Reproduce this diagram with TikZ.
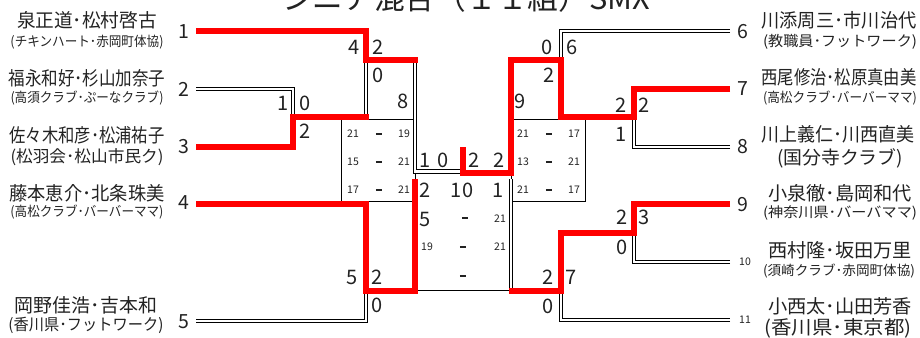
\documentclass[tikz,border=0pt]{standalone}
\usepackage{graphicx}
\usepackage{fontspec}
\setmainfont{Noto Sans CJK JP}
\newsavebox\fitbox
\newcommand\fitw[2]{\sbox\fitbox{#2}\pgfmathsetmacro\fitfac{#1/\wd\fitbox}\scalebox{\fitfac}[1]{\usebox\fitbox}}
\newcommand\fsz[1]{\fontsize{#1}{#1}\selectfont}
\newcommand\dashbar{\rule{6.5pt}{1.8pt}}
\definecolor{txt}{HTML}{222222}
\definecolor{winred}{HTML}{FF0000}
\tikzset{
  win/.style={draw=winred, line width=5.5pt, line join=miter},
  lose/.style={draw=black, line width=1.2pt, double=white, double distance=2.2pt},
  frame/.style={draw=black, line width=1pt},
  lbl/.style={inner sep=0pt, anchor=center, text=txt},
  pn/.style={lbl, font=\fsz{19.5}},
  sc/.style={lbl, font=\fsz{20}},
  sm/.style={lbl, font=\fsz{10.5}},
  dsh/.style={lbl},
}
\begin{document}
\begin{tikzpicture}[x=1pt,y=-1pt]
\useasboundingbox (0,0) rectangle (920,337);
% ---------- coordinates ----------
\coordinate (p1) at (196,31);
\coordinate (p2) at (196,89);
\coordinate (p3) at (196,147);
\coordinate (p4) at (196,204);
\coordinate (p5) at (196,321);
\coordinate (p6) at (730,31);
\coordinate (p7) at (730,89);
\coordinate (p8) at (730,147);
\coordinate (p9) at (730,204);
\coordinate (p10) at (730,262);
\coordinate (p11) at (730,320);
\coordinate (mA) at (293,117);
\coordinate (mB) at (366,60);
\coordinate (mB3) at (366,117);
\coordinate (mB3e) at (368.5,117);
\coordinate (mC) at (366,291);
\coordinate (sLt) at (415,60);
\coordinate (sLte) at (417.5,60);
\coordinate (sLb) at (415,291);
\coordinate (sLb2) at (415,179);
\coordinate (finL) at (463,171.5);
\coordinate (fin) at (463,173);
\coordinate (champ) at (463,147);
\coordinate (sRt) at (511,60);
\coordinate (sR) at (511,173);
\coordinate (sRb) at (511,291);
\coordinate (sRbe) at (508.5,291);
\coordinate (sRb2) at (511,179);
\coordinate (mD) at (561,60);
\coordinate (mD3) at (561,117);
\coordinate (mE) at (634,117);
\coordinate (mF) at (634,233);
\coordinate (mG3) at (561,233);
\coordinate (mG) at (561,291);
% ---------- score tables ----------
\draw[frame] (341,119) rectangle (415,201);
\draw[frame] (511,119) rectangle (585,201);
\draw[frame] (415,290) -- (511,290);
% ---------- losing lines ----------
\draw[lose] (p2) -| (mA);
\draw[lose] (mB3) -- (mB);
\draw[lose] (sLt) |- (finL);
\draw[lose] (p5) -| (mC);
\draw[lose] (p6) -| (mD);
\draw[lose] (p8) -| (mE);
\draw[lose] (p10) -| (mF);
\draw[lose] (p11) -| (mG);
\draw[lose] (sRb) -- (sRb2);
% ---------- winning lines ----------
\draw[win] (p1) -| (mB) -- (sLte);
\draw[win] (p3) -| (mA) -- (mB3e);
\draw[win] (p4) -| (mC) -- (sLb) -- (sLb2);
\draw[win] (p7) -| (mE) -- (mD3) -- (mD) -- (sRt) -- (sR) -- (fin) -- (champ);
\draw[win] (p9) -| (mF) -- (mG3) -- (mG) -- (sRbe);
% ---------- title ----------
\node[inner sep=0pt, anchor=base, text=txt] (title) at (466,10) {\fitw{368}{\fsz{30}シニア混合（１１組）SMX}};
% ---------- player numbers ----------
\node[pn] (n1) at (184,32) {1};
\node[pn] (n2) at (184,89) {2};
\node[pn] (n3) at (184,147) {3};
\node[pn] (n4) at (184,203) {4};
\node[pn] (n5) at (184,322) {5};
\node[pn] (n6) at (743,32) {6};
\node[pn] (n7) at (743,89) {7};
\node[pn] (n8) at (743,147) {8};
\node[pn] (n9) at (743,205) {9};
\node[sm] (n10) at (745,262) {10};
\node[sm] (n11) at (745,320) {11};
% ---------- left names ----------
\node[lbl] (a1) at (87,20) {\fitw{140}{\fsz{19}泉正道･松村啓古}};
\node[lbl] (b1) at (87,42) {\fitw{153}{\fsz{13.5}(チキンハート･赤岡町体協)}};
\node[lbl] (a2) at (87,78) {\fitw{157}{\fsz{19}福永和好･杉山加奈子}};
\node[lbl] (b2) at (87,98) {\fitw{153}{\fsz{13.5}(高須クラブ･ぷーなクラブ)}};
\node[lbl] (a3) at (87,135) {\fitw{155}{\fsz{19}佐々木和彦･松浦祐子}};
\node[lbl] (b3) at (87,157) {\fitw{153}{\fsz{16.5}(松羽会･松山市民ク)}};
\node[lbl] (a4) at (87,193) {\fitw{155}{\fsz{19}藤本恵介･北条珠美}};
\node[lbl] (b4) at (87,212) {\fitw{153}{\fsz{13.5}(高松クラブ･バーバーママ)}};
\node[lbl] (a5) at (86,305) {\fitw{142}{\fsz{19}岡野佳浩･吉本和}};
\node[lbl] (b5) at (86,325) {\fitw{155}{\fsz{16}(香川県･フットワーク)}};
% ---------- right names ----------
\node[lbl] (a6) at (839,20) {\fitw{155}{\fsz{19}川添周三･市川治代}};
\node[lbl] (b6) at (840,42) {\fitw{154}{\fsz{14.5}(教職員･フットワーク)}};
\node[lbl] (a7) at (839,77) {\fitw{155}{\fsz{19}西尾修治･松原真由美}};
\node[lbl] (b7) at (840,98) {\fitw{154}{\fsz{13.5}(高松クラブ･バーバーママ)}};
\node[lbl] (a8) at (838,134) {\fitw{153}{\fsz{19}川上義仁･川西直美}};
\node[lbl] (b8) at (840,158) {\fitw{126}{\fsz{18.5}(国分寺クラブ)}};
\node[lbl] (a9) at (840,193) {\fitw{144}{\fsz{19}小泉徹･島岡和代}};
\node[lbl] (b9) at (840,213) {\fitw{154}{\fsz{14}(神奈川県･バーバママ)}};
\node[lbl] (a10) at (840,250) {\fitw{144}{\fsz{19}西村隆･坂田万里}};
\node[lbl] (b10) at (839,271) {\fitw{152}{\fsz{13.5}(須崎クラブ･赤岡町体協)}};
\node[lbl] (a11) at (840,306) {\fitw{144}{\fsz{19}小西太･山田芳香}};
\node[lbl] (b11) at (838,328) {\fitw{147}{\fsz{19}(香川県･東京都)}};
% ---------- left scores ----------
\node[sc] (s1) at (354,47) {4};
\node[sc] (s2) at (378,47) {2};
\node[sc] (s3) at (378,75) {0};
\node[sc] (s4) at (403,101) {8};
\node[sc] (s5) at (283,103) {1};
\node[sc] (s6) at (305,103) {0};
\node[sc] (s7) at (305,131) {2};
\node[sc] (s8) at (352,277) {5};
\node[sc] (s9) at (377,277) {2};
\node[sc] (s10) at (377,305) {0};
% ---------- right scores ----------
\node[sc] (r1) at (547,47) {0};
\node[sc] (r2) at (572,47) {6};
\node[sc] (r3) at (549,75) {2};
\node[sc] (r4) at (520,101) {9};
\node[sc] (r5) at (621,105) {2};
\node[sc] (r6) at (644,105) {2};
\node[sc] (r7) at (621,134) {1};
\node[sc] (r8) at (622,217) {2};
\node[sc] (r9) at (644,217) {3};
\node[sc] (r10) at (622,247) {0};
\node[sc] (r11) at (548,277) {2};
\node[sc] (r12) at (571,277) {7};
\node[sc] (r13) at (548,306) {0};
% ---------- final ----------
\node[sc] (f1) at (425,160) {1};
\node[sc] (f2) at (443,160) {0};
\node[sc] (f3) at (474,160) {2};
\node[sc] (f4) at (499,160) {2};
\node[sc] (f5) at (425,190) {2};
\node[sc] (f6) at (462,190) {10};
\node[sc] (f7) at (498,190) {1};
\node[sc] (f8) at (425,219) {5};
\node[dsh] (f9) at (465,218) {\dashbar};
\node[sm] (f10) at (500,219) {21};
\node[sm] (f11) at (427,247) {19};
\node[dsh] (f12) at (463,247) {\dashbar};
\node[sm] (f13) at (500,247) {21};
\node[dsh] (f14) at (463,276) {\dashbar};
% ---------- left table ----------
\node[sm] (lt1) at (353,134) {21};
\node[dsh] (lt2) at (379,134) {\dashbar};
\node[sm] (lt3) at (404,134) {19};
\node[sm] (lt4) at (353,162) {15};
\node[dsh] (lt5) at (379,162) {\dashbar};
\node[sm] (lt6) at (404,162) {21};
\node[sm] (lt7) at (353,190) {17};
\node[dsh] (lt8) at (379,190) {\dashbar};
\node[sm] (lt9) at (404,190) {21};
% ---------- right table ----------
\node[sm] (rt1) at (523,134) {21};
\node[dsh] (rt2) at (549,134) {\dashbar};
\node[sm] (rt3) at (574,134) {17};
\node[sm] (rt4) at (523,162) {13};
\node[dsh] (rt5) at (549,162) {\dashbar};
\node[sm] (rt6) at (574,162) {21};
\node[sm] (rt7) at (523,190) {21};
\node[dsh] (rt8) at (549,190) {\dashbar};
\node[sm] (rt9) at (574,190) {17};
\end{tikzpicture}
\end{document}
